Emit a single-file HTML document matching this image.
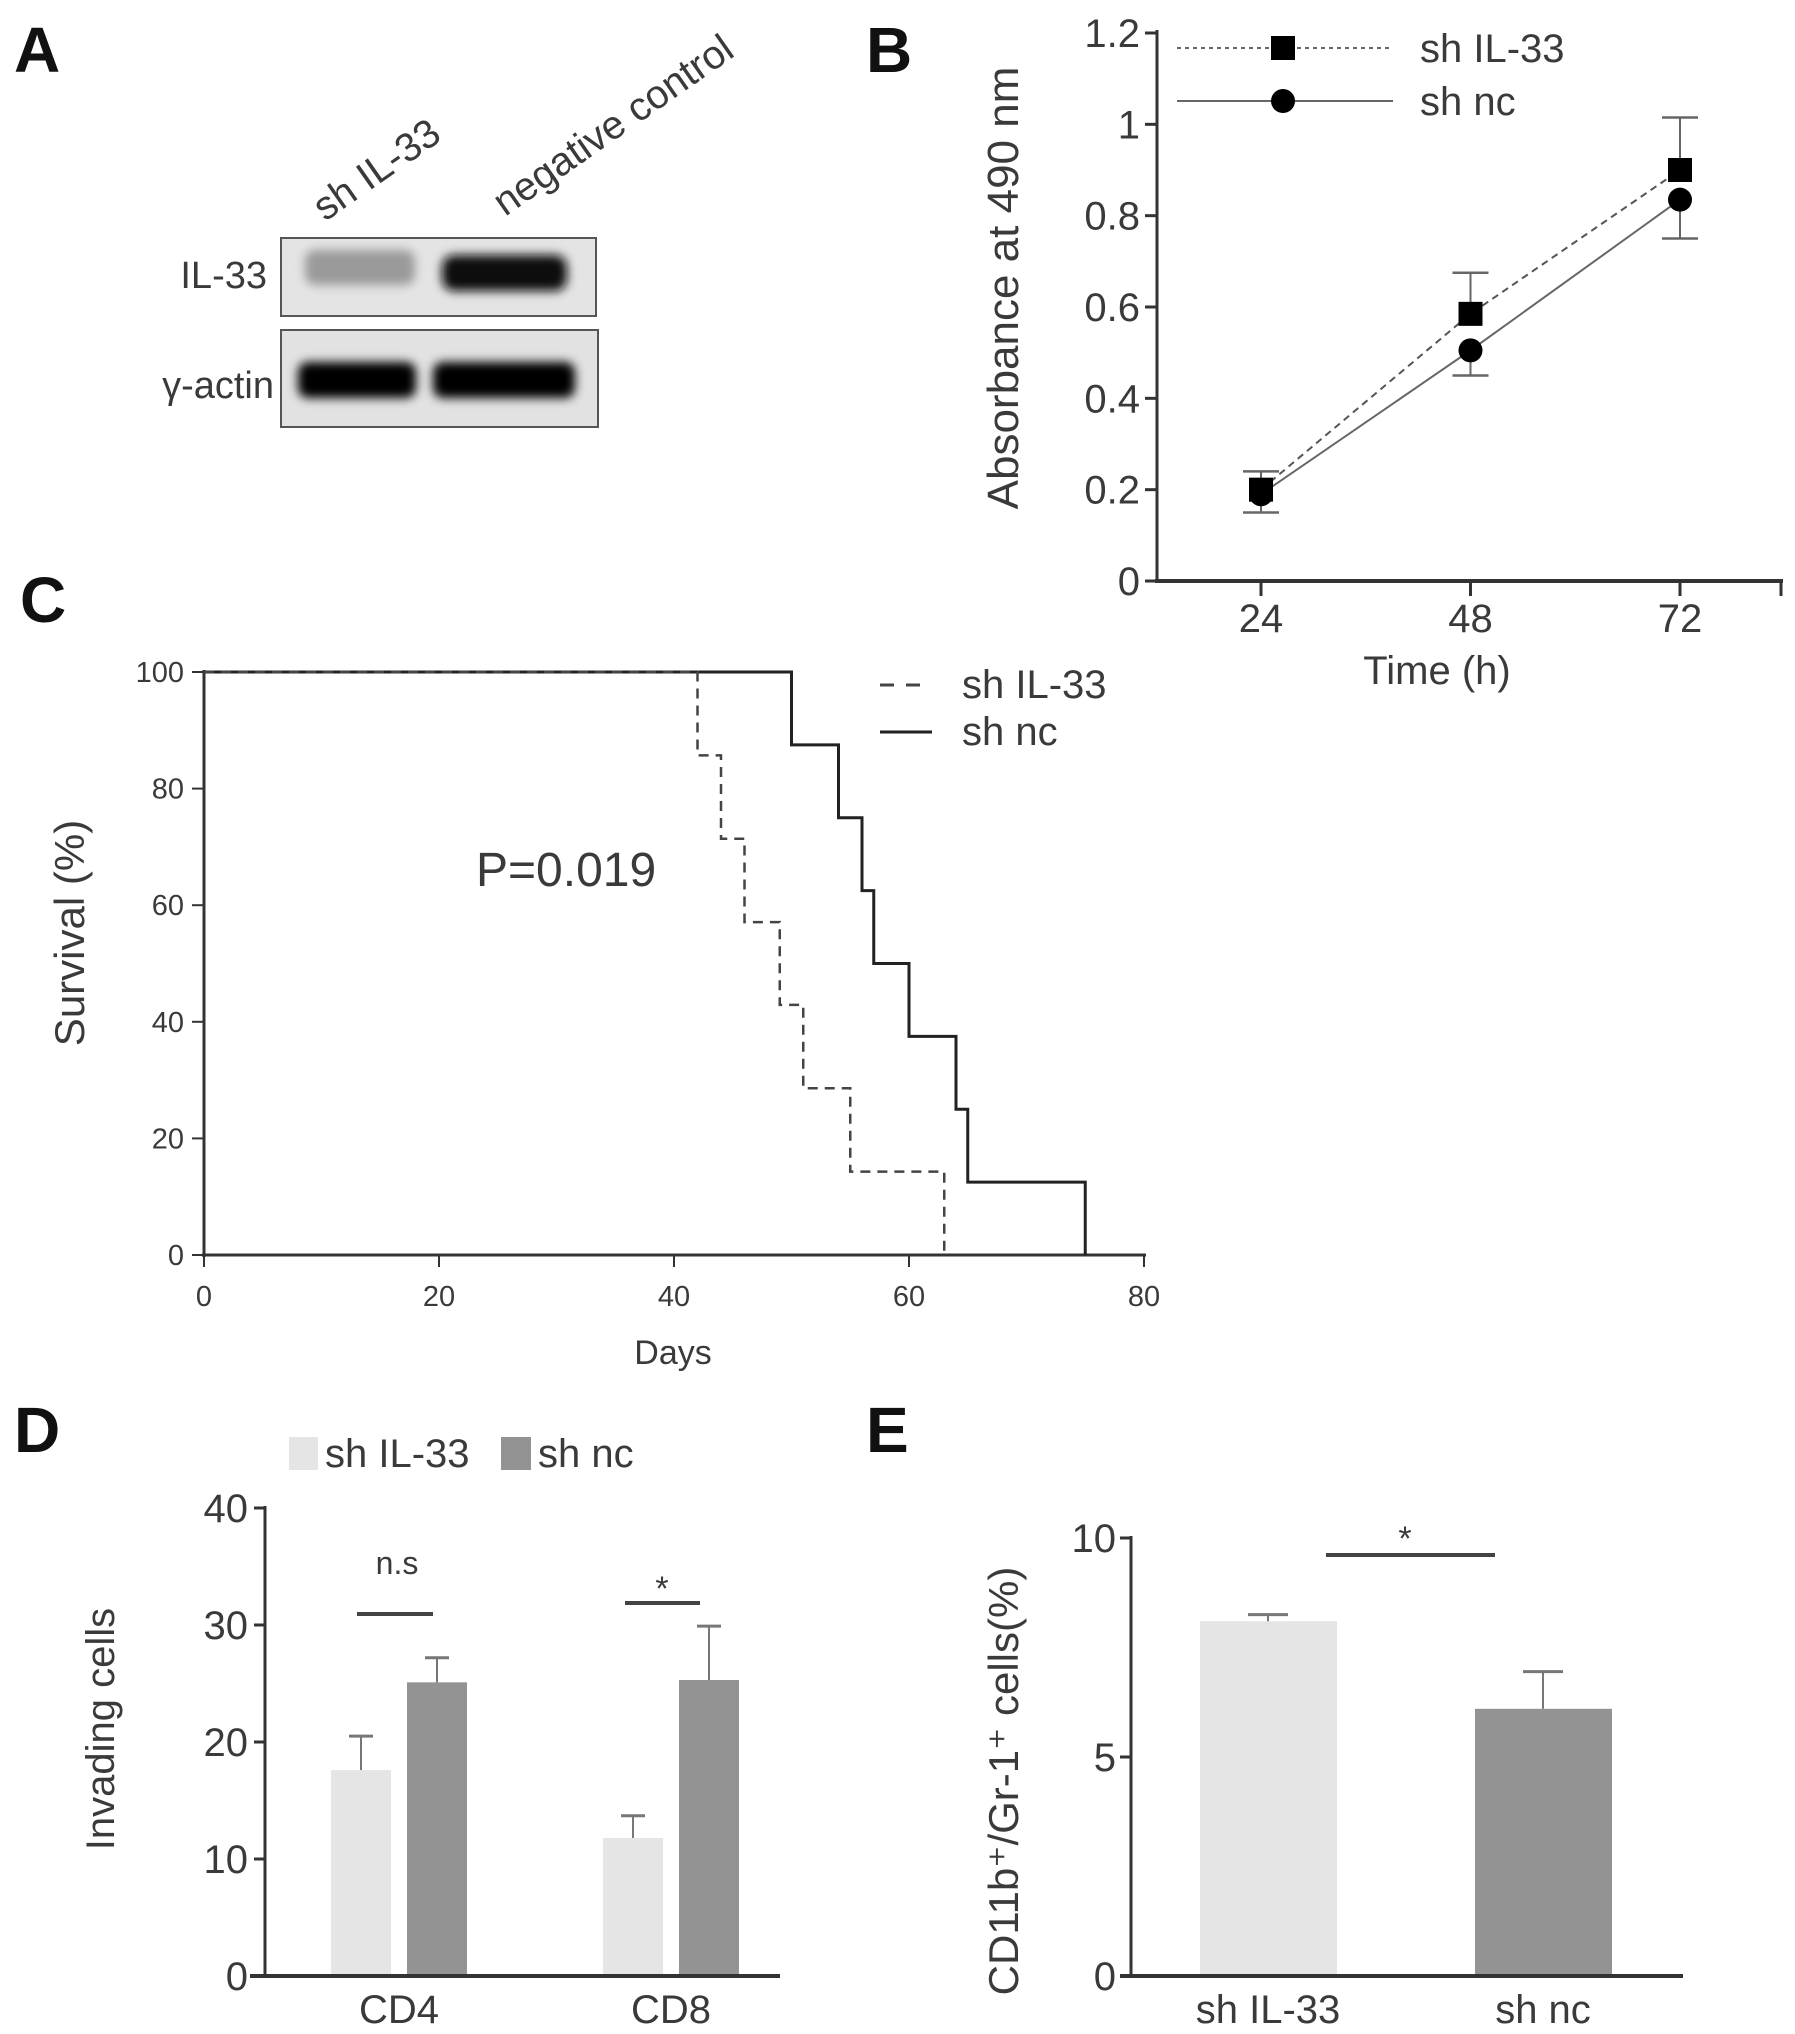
<!DOCTYPE html>
<html><head><meta charset="utf-8"><style>
html,body{margin:0;padding:0;background:#fff}
svg{display:block}
text{font-family:"Liberation Sans",sans-serif;fill:#3a3a3a}
.pl{font-weight:bold;fill:#111;font-size:64px}
</style></head><body>
<svg id="fig" width="1795" height="2034" viewBox="0 0 1795 2034" xmlns="http://www.w3.org/2000/svg">
<defs>
<filter id="blur" x="-20%" y="-50%" width="140%" height="200%"><feGaussianBlur stdDeviation="5"/></filter>
</defs>
<text class="pl" x="14" y="72">A</text>
<text class="pl" x="866" y="72">B</text>
<text class="pl" x="20" y="622">C</text>
<text class="pl" x="14" y="1452">D</text>
<text class="pl" x="866" y="1452">E</text>

<g>
<text x="325" y="222" font-size="40" transform="rotate(-35 325 222)">sh IL-33</text>
<text x="505" y="217" font-size="40" transform="rotate(-35 505 217)">negative control</text>
<text x="267" y="288" font-size="38" text-anchor="end">IL-33</text>
<text x="274" y="398" font-size="38" text-anchor="end">γ-actin</text>
<rect x="281" y="238" width="315" height="78" fill="#e4e4e4" stroke="#555" stroke-width="2"/>
<g filter="url(#blur)">
<rect x="305" y="250" width="110" height="35" fill="#9a9a9a" rx="10"/>
<rect x="442" y="255" width="125" height="36" fill="#111" rx="12"/>
</g>
<rect x="281" y="330" width="317" height="97" fill="#e2e2e2" stroke="#555" stroke-width="2"/>
<g filter="url(#blur)">
<rect x="298" y="362" width="118" height="36" fill="#050505" rx="10"/>
<rect x="433" y="362" width="142" height="36" fill="#050505" rx="10"/>
</g>
</g>

<g id="panelB"></g>
<g id="panelC"></g>
<g id="panelD"></g>
<g id="panelE"></g>
</svg>
<script>
const bTimes = [24, 48, 72];
const bShIL33 = [0.2, 0.585, 0.9];
const bShIL33Err = [0.04, 0.09, 0.115];
const bShNc = [0.19, 0.505, 0.835];
const bShNcErr = [0.04, 0.055, 0.085];
const bYTicks = ["0", "0.2", "0.4", "0.6", "0.8", "1", "1.2"];
const cIL33Days = [0, 42, 44, 46, 49, 51, 55, 63];
const cIL33Surv = [100, 85.7, 71.4, 57.1, 42.9, 28.6, 14.3, 0];
const cNcDays = [0, 50, 54, 56, 57, 60, 64, 65, 75];
const cNcSurv = [100, 87.5, 75, 62.5, 50, 37.5, 25, 12.5, 0];
const cXTicks = [0, 20, 40, 60, 80];
const cYTicks = [0, 20, 40, 60, 80, 100];
const dCats = ["CD4", "CD8"];
const dShIL33 = [17.6, 11.8];
const dShIL33Err = [2.9, 1.9];
const dShNc = [25.1, 25.3];
const dShNcErr = [2.1, 4.6];
const dYTicks = [0, 10, 20, 30, 40];
const eCats = ["sh IL-33", "sh nc"];
const eVals = [8.1, 6.1];
const eErr = [0.15, 0.85];
const eYTicks = [0, 5, 10];

const NS = "http://www.w3.org/2000/svg";
function mk(parent, tag, attrs, txt) {
  const e = document.createElementNS(NS, tag);
  for (const k in attrs) e.setAttribute(k, attrs[k]);
  if (txt !== undefined) e.textContent = txt;
  parent.appendChild(e);
  return e;
}
const AX = "#333";

(function () {
  const g = document.getElementById("panelB");
  const x = t => 1261 + (t - 24) * (1680 - 1261) / 48;
  const y = v => 581 - v * (581 - 33) / 1.2;
  let l = mk(g, "line", {x1: 1157, y1: 30, x2: 1157, y2: 583, stroke: AX, "stroke-width": 3});
  
  
  l = mk(g, "line", {x1: 1155, y1: 581, x2: 1783, y2: 581, stroke: AX, "stroke-width": 4});
  
  
  mk(g, "line", {x1: 1781, y1: 581, x2: 1781, y2: 596, stroke: AX, "stroke-width": 3});
  bYTicks.forEach(t => {
    const v = parseFloat(t);
    mk(g, "line", {x1: 1145, y1: y(v), x2: 1157, y2: y(v), stroke: AX, "stroke-width": 3});
    const tx = mk(g, "text", {x: 1140, y: y(v) + 14, "font-size": 40, "text-anchor": "end"}, t);
    
    
  });
  bTimes.forEach(t => {
    mk(g, "line", {x1: x(t), y1: 581, x2: x(t), y2: 596, stroke: AX, "stroke-width": 3});
    const tx = mk(g, "text", {x: x(t), y: 632, "font-size": 40, "text-anchor": "middle"}, String(t));
    
    
  });
  let t = mk(g, "text", {x: 1437, y: 684, "font-size": 40, "text-anchor": "middle"}, "Time (h)");
  
  
  t = mk(g, "text", {x: 1018, y: 288, "font-size": 44, "text-anchor": "middle", transform: "rotate(-90 1018 288)"}, "Absorbance at 490  nm");
  
  
  const pts = (arr) => bTimes.map((tt, i) => x(tt) + "," + y(arr[i])).join(" ");
  l = mk(g, "polyline", {points: pts(bShIL33), fill: "none", stroke: "#555", "stroke-width": 2, "stroke-dasharray": "7,5"});
  
  
  l = mk(g, "polyline", {points: pts(bShNc), fill: "none", stroke: "#666", "stroke-width": 2});
  
  
  function err(xx, v, e, dir) {
    const ye = y(v + dir * e);
    mk(g, "line", {x1: xx, y1: y(v), x2: xx, y2: ye, stroke: "#666", "stroke-width": 2});
    mk(g, "line", {x1: xx - 18, y1: ye, x2: xx + 18, y2: ye, stroke: "#666", "stroke-width": 2.5});
  }
  bTimes.forEach((tt, i) => {
    err(x(tt), bShIL33[i], bShIL33Err[i], 1);
    err(x(tt), bShNc[i], bShNcErr[i], -1);
    const c = mk(g, "circle", {cx: x(tt), cy: y(bShNc[i]), r: 12, fill: "#000"});
    
    
    const r = mk(g, "rect", {x: x(tt) - 12, y: y(bShIL33[i]) - 12, width: 24, height: 24, fill: "#000"});
    
    
  });
  mk(g, "line", {x1: 1177, y1: 48, x2: 1393, y2: 48, stroke: "#666", "stroke-width": 2, "stroke-dasharray": "4,4"});
  mk(g, "rect", {x: 1271, y: 36, width: 24, height: 24, fill: "#000"});
  t = mk(g, "text", {x: 1420, y: 62, "font-size": 40}, "sh IL-33");
  
  
  mk(g, "line", {x1: 1177, y1: 101, x2: 1393, y2: 101, stroke: "#666", "stroke-width": 2});
  mk(g, "circle", {cx: 1283, cy: 101, r: 12, fill: "#000"});
  t = mk(g, "text", {x: 1420, y: 115, "font-size": 40}, "sh nc");
  
  
})();

(function () {
  const g = document.getElementById("panelC");
  const x = d => 204 + d * (1144 - 204) / 80;
  const y = v => 1255 - v * (1255 - 672) / 100;
  let l = mk(g, "line", {x1: 204, y1: 670, x2: 204, y2: 1257, stroke: AX, "stroke-width": 3});
  
  
  l = mk(g, "line", {x1: 202, y1: 1255, x2: 1146, y2: 1255, stroke: AX, "stroke-width": 3});
  
  
  cYTicks.forEach(v => {
    mk(g, "line", {x1: 192, y1: y(v), x2: 204, y2: y(v), stroke: AX, "stroke-width": 2});
    const t = mk(g, "text", {x: 184, y: y(v) + 10, "font-size": 29, "text-anchor": "end"}, String(v));
    
    
  });
  cXTicks.forEach(v => {
    mk(g, "line", {x1: x(v), y1: 1255, x2: x(v), y2: 1267, stroke: AX, "stroke-width": 2});
    const t = mk(g, "text", {x: x(v), y: 1306, "font-size": 29, "text-anchor": "middle"}, String(v));
    
    
  });
  let t = mk(g, "text", {x: 673, y: 1364, "font-size": 34, "text-anchor": "middle"}, "Days");
  
  
  t = mk(g, "text", {x: 84, y: 933, "font-size": 42, "text-anchor": "middle", transform: "rotate(-90 84 933)"}, "Survival (%)");
  
  
  t = mk(g, "text", {x: 476, y: 886, "font-size": 48}, "P=0.019");
  
  
  function steps(days, surv) {
    let d = "M" + x(days[0]) + "," + y(surv[0]);
    for (let i = 1; i < days.length; i++) {
      d += " H" + x(days[i]) + " V" + y(surv[i]);
    }
    return d;
  }
  l = mk(g, "path", {d: steps(cNcDays, cNcSurv), fill: "none", stroke: "#222", "stroke-width": 3});
  
  
  l = mk(g, "path", {d: steps(cIL33Days, cIL33Surv), fill: "none", stroke: "#444", "stroke-width": 2.5, "stroke-dasharray": "10,7"});
  
  
  mk(g, "line", {x1: 880, y1: 685, x2: 932, y2: 685, stroke: "#444", "stroke-width": 3, "stroke-dasharray": "14,12"});
  t = mk(g, "text", {x: 962, y: 698, "font-size": 40}, "sh IL-33");
  
  
  mk(g, "line", {x1: 880, y1: 732, x2: 932, y2: 732, stroke: "#222", "stroke-width": 3});
  t = mk(g, "text", {x: 962, y: 745, "font-size": 40}, "sh nc");
  
  
})();

(function () {
  const g = document.getElementById("panelD");
  const y = v => 1976 - v * (1976 - 1508) / 40;
  const centers = [399, 671];
  const LIGHT = "#e5e5e5", DARK = "#939393";
  let l = mk(g, "line", {x1: 265, y1: 1506, x2: 265, y2: 1978, stroke: AX, "stroke-width": 3});
  
  
  dYTicks.forEach(v => {
    mk(g, "line", {x1: 254, y1: y(v), x2: 265, y2: y(v), stroke: AX, "stroke-width": 3});
    const t = mk(g, "text", {x: 248, y: y(v) + 14, "font-size": 40, "text-anchor": "end"}, String(v));
    
    
  });
  function bar(cx, v, e, col, name) {
    const r = mk(g, "rect", {x: cx, y: y(v), width: 60, height: 1976 - y(v), fill: col});
    
    
    mk(g, "line", {x1: cx + 30, y1: y(v), x2: cx + 30, y2: y(v + e), stroke: "#777", "stroke-width": 2});
    mk(g, "line", {x1: cx + 18, y1: y(v + e), x2: cx + 42, y2: y(v + e), stroke: "#777", "stroke-width": 3});
  }
  dCats.forEach((c, i) => {
    bar(centers[i] - 68, dShIL33[i], dShIL33Err[i], LIGHT, 'd-bar-sh-il33-' + c.toLowerCase());
    bar(centers[i] + 8, dShNc[i], dShNcErr[i], DARK, 'd-bar-sh-nc-' + c.toLowerCase());
    const t = mk(g, "text", {x: centers[i], y: 2023, "font-size": 40, "text-anchor": "middle"}, c);
    
    
  });
  l = mk(g, "line", {x1: 250, y1: 1976, x2: 780, y2: 1976, stroke: AX, "stroke-width": 4});
  
  
  mk(g, "line", {x1: 357, y1: 1614, x2: 433, y2: 1614, stroke: "#444", "stroke-width": 4});
  let t = mk(g, "text", {x: 397, y: 1574, "font-size": 32, "text-anchor": "middle"}, "n.s");
  
  
  mk(g, "line", {x1: 625, y1: 1603, x2: 700, y2: 1603, stroke: "#444", "stroke-width": 4});
  t = mk(g, "text", {x: 662, y: 1600, "font-size": 34, "text-anchor": "middle"}, "*");
  
  
  t = mk(g, "text", {x: 114, y: 1729, "font-size": 40, "text-anchor": "middle", transform: "rotate(-90 114 1729)"}, "Invading cells");
  
  
  mk(g, "rect", {x: 289, y: 1437, width: 29, height: 33, fill: LIGHT});
  t = mk(g, "text", {x: 325, y: 1467, "font-size": 40}, "sh IL-33");
  
  
  mk(g, "rect", {x: 501, y: 1437, width: 30, height: 33, fill: DARK});
  t = mk(g, "text", {x: 538, y: 1467, "font-size": 40}, "sh nc");
  
  
})();

(function () {
  const g = document.getElementById("panelE");
  const y = v => 1976 - v * (1976 - 1538) / 10;
  const lefts = [1200, 1475];
  const cols = ["#e5e5e5", "#939393"];
  let l = mk(g, "line", {x1: 1131, y1: 1536, x2: 1131, y2: 1978, stroke: AX, "stroke-width": 3});
  
  
  eYTicks.forEach(v => {
    mk(g, "line", {x1: 1120, y1: y(v), x2: 1131, y2: y(v), stroke: AX, "stroke-width": 3});
    const t = mk(g, "text", {x: 1116, y: y(v) + 14, "font-size": 40, "text-anchor": "end"}, String(v));
    
    
  });
  eCats.forEach((c, i) => {
    const r = mk(g, "rect", {x: lefts[i], y: y(eVals[i]), width: 137, height: 1976 - y(eVals[i]), fill: cols[i]});
    
    
    const cx = lefts[i] + 68;
    mk(g, "line", {x1: cx, y1: y(eVals[i]), x2: cx, y2: y(eVals[i] + eErr[i]), stroke: "#777", "stroke-width": 2});
    mk(g, "line", {x1: cx - 20, y1: y(eVals[i] + eErr[i]), x2: cx + 20, y2: y(eVals[i] + eErr[i]), stroke: "#777", "stroke-width": 3});
    const t = mk(g, "text", {x: cx, y: 2023, "font-size": 40, "text-anchor": "middle"}, c);
    
    
  });
  l = mk(g, "line", {x1: 1120, y1: 1976, x2: 1683, y2: 1976, stroke: AX, "stroke-width": 4});
  
  
  mk(g, "line", {x1: 1326, y1: 1555, x2: 1495, y2: 1555, stroke: "#444", "stroke-width": 4});
  let t = mk(g, "text", {x: 1405, y: 1550, "font-size": 34, "text-anchor": "middle"}, "*");
  
  
  t = mk(g, "text", {x: 1018, y: 1781, "font-size": 42, "text-anchor": "middle", transform: "rotate(-90 1018 1781)"}, "CD11b⁺/Gr-1⁺ cells(%)");
  
  
})();
</script>
</body></html>
